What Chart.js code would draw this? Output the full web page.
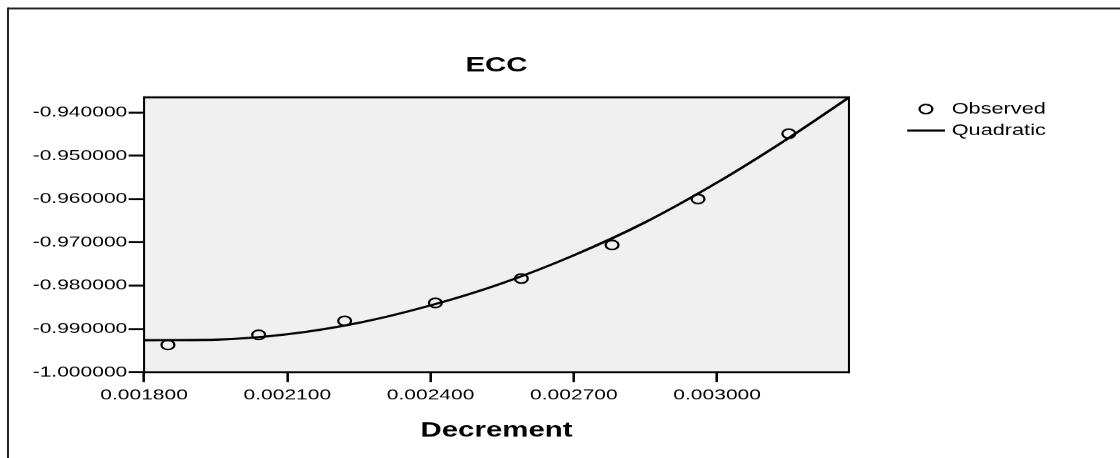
<!DOCTYPE html>
<html lang="en">
<head>
    <meta charset="UTF-8">
    <title>ECC</title>
    <script src="https://cdn.jsdelivr.net/npm/chart.js"></script>
    <style>
        html, body { margin: 0; padding: 0; background: #fff; overflow: hidden; }
        /* the original graphic is stretched sideways, so draw at 800 wide and stretch by 1.4 */
        #wrap { width: 1120px; height: 458px; overflow: hidden; }
        #ecc { transform: scaleX(1.4); transform-origin: 0 0; }
    </style>
</head>
<body>
    <div id="wrap">
        <canvas id="ecc" width="800" height="458"></canvas>
    </div>

    <script>
        // observed points
        var decrementObs = [0.00185, 0.00204, 0.00222, 0.00241, 0.00259, 0.00278, 0.00296, 0.00315];
        var eccObs = [-0.99370, -0.99139, -0.98816, -0.98401, -0.97838, -0.97062, -0.96000, -0.94491];

        // quadratic fit line
        var decrementFit = [0.0018, 0.00195, 0.0021, 0.00225, 0.0024, 0.00255, 0.0027, 0.00285, 0.0030, 0.00315, 0.003276];
        var eccFit = [-0.99262, -0.99250, -0.99125, -0.98860, -0.98458, -0.97945, -0.97300, -0.96535, -0.95620, -0.94590, -0.93655];

        // axes
        var xMin = 0.0018, xMax = 0.003276, xStep = 0.0003;
        var yMin = -1.0, yMax = -0.9365, yStep = 0.01;

        var seriesNames = ["Observed", "Quadratic"];

        function toPts(xs, ys) {
            return xs.map(function (x, i) { return { x: x, y: ys[i] }; });
        }

        var font = "'Liberation Sans', Arial, sans-serif";

        // grey plot box + frame lines
        var frames = {
            id: 'frames',
            beforeDatasetsDraw: function (chart) {
                var a = chart.chartArea, ctx = chart.ctx;
                ctx.save();
                ctx.fillStyle = '#f0f0f0';
                ctx.fillRect(a.left, a.top, a.right - a.left, a.bottom - a.top);
                ctx.restore();
            },
            afterDatasetsDraw: function (chart) {
                var a = chart.chartArea, ctx = chart.ctx;
                ctx.save();
                ctx.strokeStyle = '#000';
                ctx.lineWidth = 2;
                ctx.beginPath();
                ctx.moveTo(a.left, a.top); ctx.lineTo(a.right, a.top);
                ctx.moveTo(a.left, a.bottom); ctx.lineTo(a.right, a.bottom);
                ctx.stroke();
                ctx.lineWidth = 1.45;
                ctx.beginPath();
                ctx.moveTo(a.left, a.top - 1); ctx.lineTo(a.left, a.bottom + 1);
                ctx.moveTo(a.right, a.top - 1); ctx.lineTo(a.right, a.bottom + 1);
                ctx.stroke();
                // outer figure frame (top and left edge)
                ctx.strokeStyle = '#222';
                ctx.lineWidth = 2;
                ctx.beginPath();
                ctx.moveTo(5.7, 8.5); ctx.lineTo(chart.width, 8.5);
                ctx.stroke();
                ctx.lineWidth = 1.45;
                ctx.beginPath();
                ctx.moveTo(5.7, 7.5); ctx.lineTo(5.7, chart.height);
                ctx.stroke();
                ctx.restore();
            }
        };

        // SPSS style legend to the right of the plot
        var sideLegend = {
            id: 'sideLegend',
            afterDraw: function (chart) {
                var ctx = chart.ctx;
                var obs = chart.data.datasets[0], fit = chart.data.datasets[1];
                ctx.save();
                ctx.strokeStyle = '#000';
                ctx.lineWidth = obs.borderWidth;
                ctx.beginPath();
                ctx.arc(661.4, 109, obs.pointRadius, 0, Math.PI * 2);
                ctx.stroke();
                ctx.lineWidth = fit.borderWidth;
                ctx.beginPath();
                ctx.moveTo(648, 130.5); ctx.lineTo(675, 130.5);
                ctx.stroke();
                ctx.fillStyle = '#000';
                ctx.font = '15.5px ' + font;
                ctx.textAlign = 'left';
                ctx.textBaseline = 'middle';
                ctx.fillText(obs.label, 679.8, 109);
                ctx.fillText(fit.label, 679.8, 131);
                ctx.restore();
            }
        };

        var ctx = document.getElementById('ecc').getContext('2d');
        var eccChart = new Chart(ctx, {
            type: 'scatter',
            data: {
                datasets: [{
                    label: seriesNames[0],
                    data: toPts(decrementObs, eccObs),
                    showLine: false,
                    pointStyle: 'circle',
                    pointRadius: 4.6,
                    borderWidth: 1.6,
                    borderColor: '#000',
                    backgroundColor: 'rgba(0,0,0,0)',
                    order: 0
                }, {
                    label: seriesNames[1],
                    data: toPts(decrementFit, eccFit),
                    showLine: true,
                    pointRadius: 0,
                    borderWidth: 2.2,
                    borderColor: '#000',
                    backgroundColor: '#000',
                    cubicInterpolationMode: 'monotone',
                    order: 1
                }]
            },
            options: {
                responsive: false,
                devicePixelRatio: 1.4,
                animation: false,
                layout: { padding: { left: 0, right: 193.6, top: 0, bottom: 0 } },
                plugins: {
                    legend: { display: false },
                    tooltip: { enabled: false },
                    title: {
                        display: true,
                        fullSize: false,
                        text: 'ECC',
                        color: '#000',
                        font: { family: font, size: 21, weight: 'bold' },
                        padding: { top: 53, bottom: 19 }
                    }
                },
                scales: {
                    x: {
                        type: 'linear',
                        min: xMin,
                        max: xMax,
                        afterFit: function (scale) { scale.height = 86; },
                        border: { display: false },
                        grid: {
                            drawOnChartArea: false,
                            drawTicks: true,
                            tickLength: 10,
                            tickColor: '#000',
                            tickWidth: 1.8,
                            color: '#000'
                        },
                        ticks: {
                            stepSize: xStep,
                            includeBounds: false,
                            color: '#000',
                            padding: 4,
                            maxRotation: 0,
                            font: { family: font, size: 15 },
                            callback: function (v) { return v.toFixed(6); }
                        },
                        title: {
                            display: true,
                            text: 'Decrement',
                            color: '#000',
                            font: { family: font, size: 21, weight: 'bold' },
                            padding: { top: 0, bottom: 15 }
                        }
                    },
                    y: {
                        type: 'linear',
                        min: yMin,
                        max: yMax,
                        afterFit: function (scale) { scale.width = 102.9; },
                        border: { display: false },
                        grid: {
                            drawOnChartArea: false,
                            drawTicks: true,
                            tickLength: 11,
                            tickColor: '#000',
                            tickWidth: 2,
                            color: '#000'
                        },
                        ticks: {
                            stepSize: yStep,
                            includeBounds: false,
                            color: '#000',
                            padding: 1,
                            font: { family: font, size: 15 },
                            callback: function (v) { return v.toFixed(6); }
                        }
                    }
                }
            },
            plugins: [frames, sideLegend]
        });
    </script>
</body>
</html>
